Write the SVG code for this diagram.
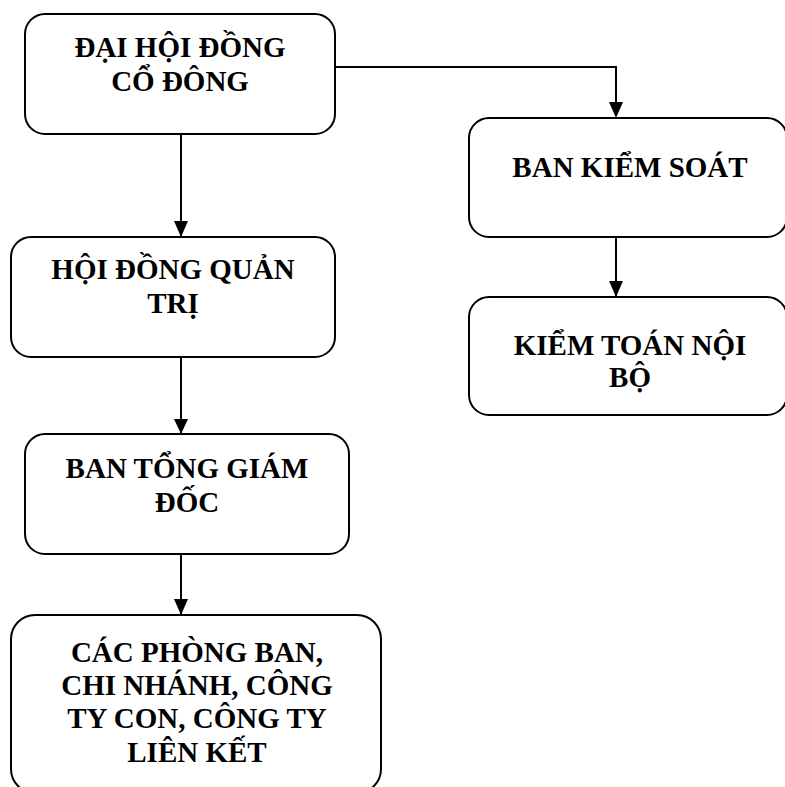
<svg xmlns="http://www.w3.org/2000/svg" width="785" height="787" viewBox="0 0 785 787">
<defs>
<style>
.box{fill:#fff;stroke:#000;stroke-width:2}
.t{font-family:"Liberation Serif","Times New Roman",serif;font-weight:bold;font-size:29px;text-anchor:middle;fill:#000}
.c{fill:none;stroke:#000;stroke-width:2}
</style>
<marker id="arr" markerWidth="8" markerHeight="8" refX="8" refY="4" orient="auto" markerUnits="userSpaceOnUse" viewBox="0 0 8 8">
<path d="M0,0 L8,4 L0,8 Z" fill="#000"/>
</marker>
</defs>
<rect width="785" height="787" fill="#fff"/>
<g id="connectors">
<path class="c" d="M181,134 V236"/>
<path d="M174,221 L188,221 L181,237 Z"/>
<path class="c" d="M181,357 V433"/>
<path d="M174,419 L188,419 L181,434 Z"/>
<path class="c" d="M181,554 V614"/>
<path d="M174,599 L188,599 L181,615 Z"/>
<path class="c" d="M335,67 H616 V116"/>
<path d="M609,102 L623,102 L616,118 Z"/>
<path class="c" d="M616,237 V296"/>
<path d="M609,281 L623,281 L616,297 Z"/>
</g>
<g id="n1">
<rect class="box" x="25" y="14" width="310" height="120" rx="20"/>
<text class="t" x="180" y="57">ĐẠI HỘI ĐỒNG</text>
<text class="t" x="180" y="91">CỔ ĐÔNG</text>
</g>
<g id="n2">
<rect class="box" x="11" y="237" width="324" height="120" rx="20"/>
<text class="t" x="173" y="279">HỘI ĐỒNG QUẢN</text>
<text class="t" x="173" y="313">TRỊ</text>
</g>
<g id="n3">
<rect class="box" x="25" y="434" width="324" height="120" rx="20"/>
<text class="t" x="187" y="478">BAN TỔNG GIÁM</text>
<text class="t" x="187" y="512">ĐỐC</text>
</g>
<g id="n4">
<rect class="box" x="11" y="615" width="370" height="178" rx="24"/>
<text class="t" x="197" y="662">CÁC PHÒNG BAN,</text>
<text class="t" x="197" y="695">CHI NHÁNH, CÔNG</text>
<text class="t" x="197" y="728">TY CON, CÔNG TY</text>
<text class="t" x="197" y="762">LIÊN KẾT</text>
</g>
<g id="n5">
<rect class="box" x="469" y="118" width="318" height="119" rx="20"/>
<text class="t" x="630" y="177">BAN KIỂM SOÁT</text>
</g>
<g id="n6">
<rect class="box" x="469" y="297" width="318" height="118" rx="20"/>
<text class="t" x="630" y="355">KIỂM TOÁN NỘI</text>
<text class="t" x="630" y="387">BỘ</text>
</g>
</svg>
